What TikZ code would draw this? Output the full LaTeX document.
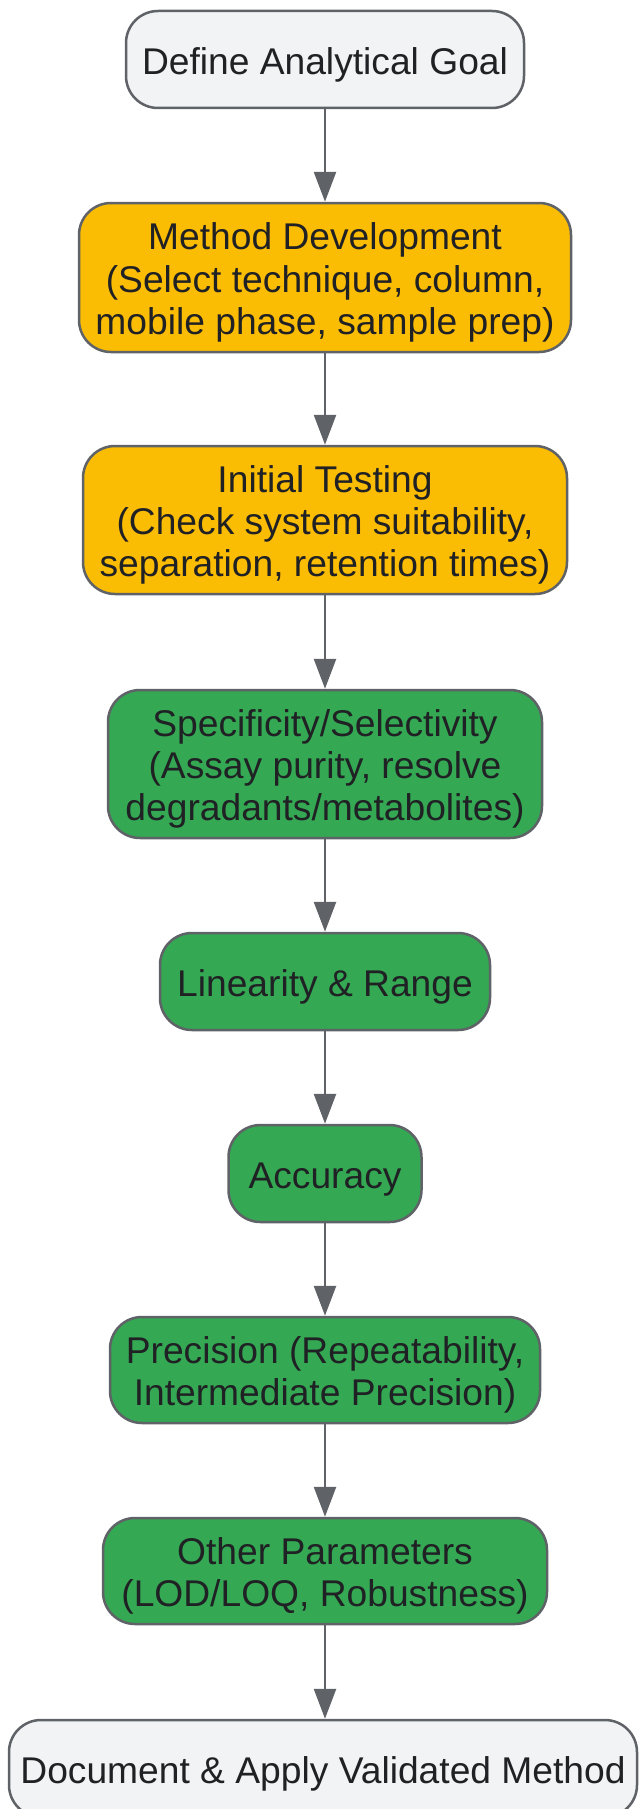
\documentclass[tikz,border=0pt]{standalone}
\usepackage{fontspec}
\setmainfont{Liberation Sans}
\usetikzlibrary{arrows.meta}
\definecolor{endgray}{HTML}{F1F3F4}
\definecolor{edgegray}{HTML}{5F6368}
\definecolor{inkgray}{HTML}{202124}
\definecolor{devyellow}{HTML}{FBBC04}
\definecolor{valgreen}{HTML}{34A853}
% first line a bit taller, so the text sits lower in its box
\newcommand{\liftline}{\rule{0pt}{37pt}}
\begin{document}
\begin{tikzpicture}[x=1pt,y=-1pt]
    \tikzset{box/.style={draw=edgegray, line width=2.5pt, rounded corners=32pt, align=center, inner sep=0pt,
            text=inkgray, font=\fontsize{37.2}{42.2}\selectfont},
        endbox/.style={box, fill=endgray},
        devbox/.style={box, fill=devyellow},
        valbox/.style={box, fill=valgreen},
        flow/.style={-{Triangle[length=30pt,width=22pt]}, draw=edgegray, line width=2.7pt}}
    \useasboundingbox (0,0) rectangle (638,1809);
    %Entwicklung
    \node[endbox, minimum width=398pt, minimum height=97pt] (goal) at (325,59.5) {\liftline Define Analytical Goal};
    \node[devbox, minimum width=492pt, minimum height=149pt] (dev) at (325,277.5)
        {\liftline Method Development\\(Select technique, column,\\mobile phase, sample prep)};
    \node[devbox, minimum width=484pt, minimum height=148pt] (test) at (325,520)
        {\liftline Initial Testing\\(Check system suitability,\\separation, retention times)};
    %Validierung
    \node[valbox, minimum width=434pt, minimum height=148pt] (spec) at (325,764)
        {\liftline Specificity/Selectivity\\(Assay purity, resolve\\degradants/metabolites)};
    \node[valbox, minimum width=330pt, minimum height=97pt] (lin) at (325,981.5) {\liftline Linearity \& Range};
    \node[valbox, minimum width=193pt, minimum height=97pt] (acc) at (325,1173.5) {\liftline Accuracy};
    \node[valbox, minimum width=430pt, minimum height=106pt] (prec) at (325,1370)
        {\liftline Precision (Repeatability,\\Intermediate Precision)};
    \node[valbox, minimum width=444pt, minimum height=106pt] (other) at (325,1571)
        {\liftline Other Parameters\\(LOD/LOQ, Robustness)};
    \node[endbox, minimum width=628pt, minimum height=97pt] (doc) at (323,1768.5)
        {\liftline Document \& Apply Validated Method};
    %Pfeile
    \draw[flow] (goal) -- (dev);
    \draw[flow] (dev) -- (test);
    \draw[flow] (test) -- (spec);
    \draw[flow] (spec) -- (lin);
    \draw[flow] (lin) -- (acc);
    \draw[flow] (acc) -- (prec);
    \draw[flow] (prec) -- (other);
    \draw[flow] (other) -- (doc.north -| other);
\end{tikzpicture}
\end{document}
